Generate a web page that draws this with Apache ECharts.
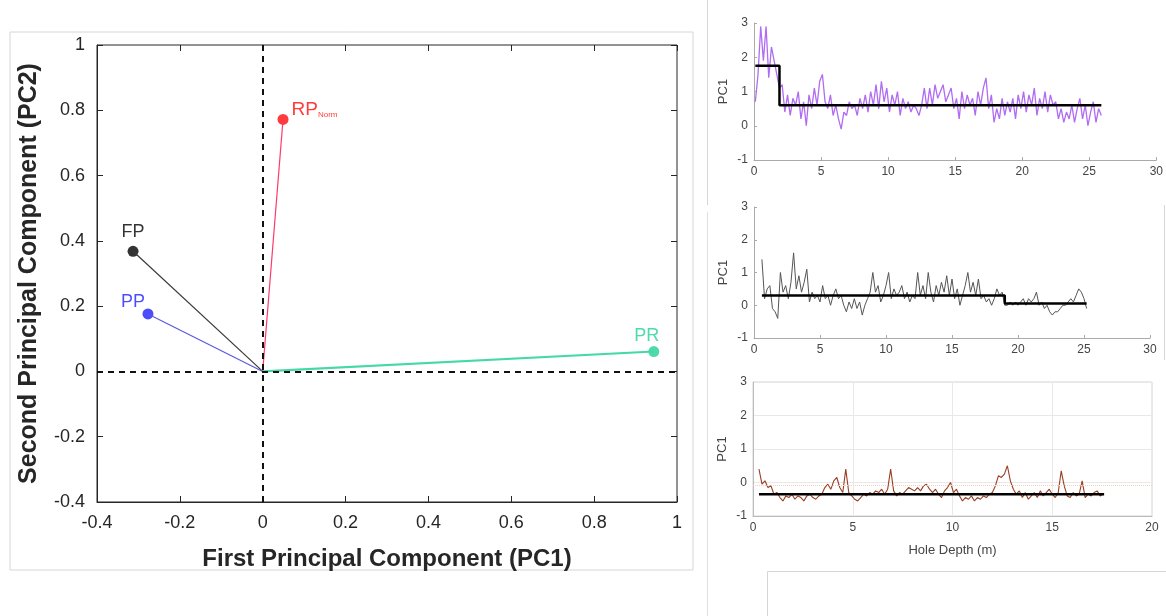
<!DOCTYPE html>
<html><head><meta charset="utf-8">
<script src="https://cdn.jsdelivr.net/npm/echarts@6/dist/echarts.min.js"></script>
<style>html,body{margin:0;padding:0;background:#fff}#c{width:1166px;height:616px}</style>
</head><body><div id="c"></div>
<script>
// ---- PCA loadings (main panel) ----
const pcaNames = ['FP', 'PP', 'RP', 'PR'];
const pc1 = [-0.313, -0.277, 0.049, 0.944];
const pc2 = [0.368, 0.176, 0.772, 0.061];
const pcaColors = ['#000000', '#1f1fff', '#ff0a0a', '#23d19a'];
const vecColors = ['#3a3a3a', '#5a5ad8', '#ff3a6a', '#45d9a8'];
const mainXTicks = [-0.4, -0.2, 0, 0.2, 0.4, 0.6, 0.8, 1];
const mainYTicks = [-0.4, -0.2, 0, 0.2, 0.4, 0.6, 0.8, 1];

// ---- Hole 1 (top right) ----
const hole1Start = 0.1, hole1Step = 0.2;
const hole1PC1 = [
 0.7,1.5,2.9,1.9,2.9,1.4,2.3,1.9,1.5,1.1,
 1.2,0.4,0.9,0.3,0.8,0.6,1.0,0.2,0.7,0.0,
 0.9,0.5,1.1,0.6,1.3,1.5,0.7,0.5,0.9,0.3,
 0.6,0.2,-0.1,0.4,0.3,0.7,0.5,0.6,0.3,0.8,
 0.5,0.9,0.4,1.0,0.6,1.2,0.5,1.3,0.7,1.1,
 0.4,0.9,0.6,1.0,0.3,0.8,0.5,0.7,0.4,0.6,
 0.5,0.3,0.6,1.1,0.5,1.1,0.6,1.2,0.8,1.0,
 1.2,0.7,0.9,1.1,0.5,0.8,0.2,1.0,0.5,0.9,
 0.6,0.8,0.3,1.0,0.6,1.1,1.4,0.5,0.9,0.1,
 0.5,0.2,0.8,0.3,0.7,0.4,0.8,0.2,0.9,0.5,
 1.0,0.4,0.9,0.6,1.1,0.3,0.8,0.5,1.0,0.4,
 0.9,0.6,0.7,0.2,0.5,0.1,0.4,0.2,0.6,0.1,
 0.5,0.8,0.2,0.6,0.0,0.4,0.7,0.1,0.5,0.3];
const hole1StepDepth = [0.1, 1.9, 1.9, 25.9];
const hole1StepVal = [1.75, 1.75, 0.6, 0.6];

// ---- Hole 2 (middle right) ----
const hole2Start = 0.6, hole2Step = 0.2;
const hole2PC1 = [
 1.4,0.2,0.5,0.6,-0.1,-0.2,-0.4,1.0,0.4,0.6,
 0.2,0.7,1.6,0.5,0.9,0.4,0.7,1.1,0.1,0.4,
 0.2,0.3,0.1,0.6,0.2,0.3,0.0,0.3,0.5,0.2,
 0.3,0.0,-0.2,0.1,-0.1,0.2,-0.1,0.1,-0.3,0.0,
 0.2,0.4,1.0,0.4,0.6,0.1,0.3,0.6,1.0,0.2,
 0.5,0.3,0.4,0.6,0.2,0.4,0.1,0.3,0.2,1.0,
 0.3,0.6,0.2,1.0,0.4,0.1,0.6,0.3,0.7,0.4,
 0.9,0.3,0.8,0.2,0.5,0.0,0.3,0.6,1.0,0.4,
 0.7,0.3,0.8,0.2,0.3,0.1,0.2,0.0,0.2,0.5,
 0.3,0.4,0.0,0.0,0.1,0.0,0.1,0.0,0.1,0.2,
 0.0,0.2,0.1,0.2,0.4,0.0,0.1,-0.1,0.0,-0.2,
 -0.3,-0.2,-0.2,-0.1,0.0,0.0,0.1,0.2,0.1,0.3,
 0.5,0.4,0.2,-0.1];
const hole2StepDepth = [0.6, 19.0, 19.0, 25.2];
const hole2StepVal = [0.3, 0.3, 0.05, 0.05];

// ---- Hole 3 (bottom right) ----
const hole3Start = 0.3, hole3Step = 0.15;
const hole3PC1 = [
 0.40,-0.05,0.05,-0.15,-0.10,-0.35,-0.30,-0.45,-0.55,-0.40,
 -0.45,-0.35,-0.50,-0.40,-0.45,-0.55,-0.40,-0.35,-0.45,-0.50,
 -0.40,-0.35,-0.15,-0.05,-0.20,0.05,0.15,-0.15,-0.30,0.40,
 -0.30,-0.40,-0.50,-0.55,-0.45,-0.35,-0.40,-0.30,-0.35,-0.25,
 -0.30,-0.20,-0.35,-0.20,0.40,-0.25,-0.40,-0.30,-0.35,-0.25,
 -0.15,-0.20,-0.25,-0.15,-0.25,-0.10,-0.05,-0.20,-0.30,-0.20,
 -0.35,-0.45,-0.25,-0.15,0.00,-0.30,-0.20,-0.40,-0.55,-0.45,
 -0.50,-0.40,-0.55,-0.45,-0.50,-0.40,-0.45,-0.35,-0.30,-0.10,
 0.20,0.15,0.25,0.50,0.05,-0.20,-0.35,-0.25,-0.45,-0.30,
 -0.50,-0.40,-0.30,-0.45,-0.25,-0.40,-0.30,-0.20,-0.35,-0.45,
 -0.30,0.35,-0.10,-0.40,-0.45,-0.30,-0.40,-0.35,0.05,-0.45,
 -0.35,-0.40,-0.30,-0.25,-0.40,-0.35];
const hole3StepDepth = [0.3, 17.6];
const hole3StepVal = [-0.35, -0.35];
const hole3RefLevel = -0.07;

const depthTicks = [0, 5, 10, 15, 20, 25, 30];
const pcTicks = [-1, 0, 1, 2, 3];

function pairs(start, step, vals) {
  return vals.map((v, i) => [+(start + i * step).toFixed(3), v]);
}
function zip(xs, ys) { return xs.map((x, i) => [x, ys[i]]); }

const FONT = 'Liberation Sans, Arial, Helvetica, sans-serif';
const chart = echarts.init(document.getElementById('c'));

const grids = [
  { left: 97, top: 45, width: 580, height: 457, show: true, borderColor: '#262626', borderWidth: 1 },
  { left: 754, top: 23, width: 407, height: 137 },
  { left: 754, top: 207, width: 396, height: 131 },
  { left: 753, top: 382, width: 399, height: 134, show: true, borderColor: '#d4d4d4', borderWidth: 1 }
];

const mainAxisLabel = { fontFamily: FONT, fontSize: 18, color: '#262626', margin: 12 };
const smallLabel = { fontFamily: FONT, fontSize: 12, color: '#444', margin: 6 };
const mainTick = { inside: true, length: 6, lineStyle: { color: '#262626' } };

const xAxes = [
  { gridIndex: 0, type: 'value', min: -0.4, max: 1, interval: 0.2,
    axisLine: { onZero: false, lineStyle: { color: '#262626' } }, axisTick: mainTick,
    splitLine: { show: false }, axisLabel: mainAxisLabel,
    name: 'First Principal Component (PC1)', nameLocation: 'middle', nameGap: 45,
    nameTextStyle: { fontFamily: FONT, fontSize: 24, fontWeight: 'bold', color: '#262626' } },
  { gridIndex: 0, type: 'value', min: -0.4, max: 1, interval: 0.2, position: 'top',
    axisLine: { show: false, onZero: false }, axisTick: mainTick,
    axisLabel: { show: false }, splitLine: { show: false } },
  { gridIndex: 1, type: 'value', min: 0, max: 30, interval: 5,
    axisLine: { onZero: false, lineStyle: { color: '#aaa' } }, axisTick: { inside: true, length: 3, lineStyle: { color: '#aaa' } },
    splitLine: { show: false }, axisLabel: smallLabel },
  { gridIndex: 2, type: 'value', min: 0, max: 30, interval: 5,
    axisLine: { onZero: false, lineStyle: { color: '#aaa' } }, axisTick: { inside: true, length: 3, lineStyle: { color: '#aaa' } },
    splitLine: { show: false }, axisLabel: smallLabel },
  { gridIndex: 3, type: 'value', min: 0, max: 20, interval: 5,
    axisLine: { onZero: false, lineStyle: { color: '#bbb' } }, axisTick: { show: false },
    splitLine: { show: true, lineStyle: { color: '#e8e8e8' } }, axisLabel: smallLabel,
    name: 'Hole Depth (m)', nameLocation: 'middle', nameGap: 28,
    nameTextStyle: { fontFamily: FONT, fontSize: 13, color: '#444' } }
];
const yAxes = [
  { gridIndex: 0, type: 'value', min: -0.4, max: 1, interval: 0.2,
    axisLine: { onZero: false, lineStyle: { color: '#262626' } }, axisTick: mainTick,
    splitLine: { show: false }, axisLabel: mainAxisLabel,
    name: 'Second Principal Component (PC2)', nameLocation: 'middle', nameGap: 55,
    nameTextStyle: { fontFamily: FONT, fontSize: 25, fontWeight: 'bold', color: '#262626' } },
  { gridIndex: 0, type: 'value', min: -0.4, max: 1, interval: 0.2, position: 'right',
    axisLine: { show: false, onZero: false }, axisTick: mainTick,
    axisLabel: { show: false }, splitLine: { show: false } },
  { gridIndex: 1, type: 'value', min: -1, max: 3, interval: 1,
    axisLine: { onZero: false, lineStyle: { color: '#aaa' } }, axisTick: { inside: true, length: 3, lineStyle: { color: '#aaa' } },
    splitLine: { show: false }, axisLabel: smallLabel,
    name: 'PC1', nameLocation: 'middle', nameGap: 24, nameTextStyle: { fontFamily: FONT, fontSize: 13, color: '#444' } },
  { gridIndex: 2, type: 'value', min: -1, max: 3, interval: 1,
    axisLine: { onZero: false, lineStyle: { color: '#aaa' } }, axisTick: { inside: true, length: 3, lineStyle: { color: '#aaa' } },
    splitLine: { show: false }, axisLabel: smallLabel,
    name: 'PC1', nameLocation: 'middle', nameGap: 24, nameTextStyle: { fontFamily: FONT, fontSize: 13, color: '#444' } },
  { gridIndex: 3, type: 'value', min: -1, max: 3, interval: 1,
    axisLine: { onZero: false, lineStyle: { color: '#bbb' } }, axisTick: { show: false },
    splitLine: { show: true, lineStyle: { color: '#e8e8e8' } }, axisLabel: smallLabel,
    name: 'PC1', nameLocation: 'middle', nameGap: 24, nameTextStyle: { fontFamily: FONT, fontSize: 13, color: '#444' } }
];

const series = [];
// dashed zero lines
series.push({
  type: 'line', xAxisIndex: 0, yAxisIndex: 0, data: [], silent: true,
  markLine: { symbol: 'none', silent: true, label: { show: false },
    lineStyle: { color: '#111', type: [6, 5], width: 2 },
    data: [{ xAxis: 0 }, { yAxis: 0 }] }
});
// vectors + points
const labelOffsets = [[0, 0], [-15, 8], [-2, -10], [-7, 4]];
pcaNames.forEach((n, i) => {
  series.push({
    type: 'line', xAxisIndex: 0, yAxisIndex: 0, symbol: 'none', silent: true,
    data: [[0, 0], [pc1[i], pc2[i]]],
    lineStyle: { color: vecColors[i], width: i === 3 ? 2.2 : 1.2 }
  });
});
pcaNames.forEach((n, i) => {
  const isRP = n === 'RP';
  series.push({
    type: 'scatter', xAxisIndex: 0, yAxisIndex: 0, symbolSize: 11,
    itemStyle: { color: pcaColors[i] },
    data: [[pc1[i], pc2[i]]],
    label: {
      show: true,
      position: isRP ? 'right' : 'top',
      offset: labelOffsets[i],
      color: pcaColors[i],
      fontFamily: FONT, fontSize: 18,
      formatter: isRP ? '{a|RP}{b|Norm}' : n,
      rich: isRP ? {
        a: { fontFamily: FONT, fontSize: 19, color: pcaColors[i] },
        b: { fontFamily: FONT, fontSize: 8, color: pcaColors[i], padding: [10, 0, 0, 0] }
      } : undefined
    }
  });
});
// hole traces
series.push({ type: 'line', xAxisIndex: 2, yAxisIndex: 2, symbol: 'none', silent: true,
  data: pairs(hole1Start, hole1Step, hole1PC1), lineStyle: { color: '#b06cf2', width: 1.3 } });
series.push({ type: 'line', xAxisIndex: 2, yAxisIndex: 2, symbol: 'none', silent: true,
  data: zip(hole1StepDepth, hole1StepVal), lineStyle: { color: '#000', width: 2.5 } });
series.push({ type: 'line', xAxisIndex: 3, yAxisIndex: 3, symbol: 'none', silent: true,
  data: pairs(hole2Start, hole2Step, hole2PC1), lineStyle: { color: '#555', width: 1 } });
series.push({ type: 'line', xAxisIndex: 3, yAxisIndex: 3, symbol: 'none', silent: true,
  data: zip(hole2StepDepth, hole2StepVal), lineStyle: { color: '#000', width: 2.5 } });
series.push({ type: 'line', xAxisIndex: 4, yAxisIndex: 4, symbol: 'none', silent: true,
  data: pairs(hole3Start, hole3Step, hole3PC1), lineStyle: { color: '#9a3f22', width: 1.1 },
  markLine: { symbol: 'none', silent: true, label: { show: false },
    lineStyle: { color: '#f4cfc2', type: 'dotted', width: 1 }, data: [{ yAxis: hole3RefLevel }] } });
series.push({ type: 'line', xAxisIndex: 4, yAxisIndex: 4, symbol: 'none', silent: true,
  data: zip(hole3StepDepth, hole3StepVal), lineStyle: { color: '#000', width: 2.5 } });

chart.setOption({
  animation: false,
  backgroundColor: '#fff',
  grid: grids,
  xAxis: xAxes,
  yAxis: yAxes,
  series: series,
  graphic: [
    { type: 'rect', shape: { x: 10, y: 32, width: 683, height: 538 }, style: { fill: 'none', stroke: '#d6d6d6', lineWidth: 1 }, silent: true, z: -1 },
    { type: 'line', shape: { x1: 707.5, y1: 0, x2: 707.5, y2: 205 }, style: { stroke: '#d6d6d6', lineWidth: 1 }, silent: true },
    { type: 'line', shape: { x1: 707.5, y1: 212, x2: 707.5, y2: 616 }, style: { stroke: '#e0e0e0', lineWidth: 1 }, silent: true },
    { type: 'line', shape: { x1: 1164.5, y1: 205, x2: 1164.5, y2: 360 }, style: { stroke: '#d6d6d6', lineWidth: 1 }, silent: true },
    { type: 'rect', shape: { x: 767.5, y: 571.5, width: 400, height: 50 }, style: { fill: 'none', stroke: '#d6d6d6', lineWidth: 1 }, silent: true }
  ]
});
</script></body></html>
